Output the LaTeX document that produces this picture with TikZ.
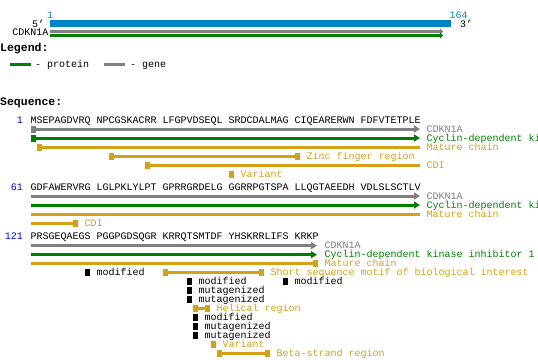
\documentclass[tikz,border=0pt]{standalone}
\usepackage{fontspec}
\setmonofont{Liberation Mono}
\usetikzlibrary{arrows.meta}
\definecolor{seqblue}{RGB}{0,0,255}
\definecolor{barblue}{RGB}{0,132,200}
\definecolor{protgreen}{RGB}{0,128,0}
\definecolor{genegray}{RGB}{128,128,128}
\definecolor{featgold}{RGB}{212,160,23}
\tikzset{
  txt/.style={font=\ttfamily\fontsize{10}{10}\selectfont, inner sep=0pt,
    text height=6.5pt, text depth=0pt, anchor=west},
  head/.style={font=\ttfamily\bfseries\fontsize{11.5}{11.5}\selectfont, inner sep=0pt,
    text height=7.5pt, text depth=0pt, anchor=west},
  sq/.style={inner sep=0pt, minimum width=5pt, minimum height=7pt, fill=#1},
  sq/.default=black,
  trk/.style={line width=3pt, draw=#1},
  arr/.style={-{Triangle[length=6pt,width=7pt]}},
  smallarr/.style={-{Triangle[length=3pt,width=6pt]}}
}
\begin{document}
\begin{tikzpicture}[x=1pt,y=-1pt]
		\clip (0,0) rectangle (538,359);
		% map of the gene
		\node[txt,anchor=center,text=barblue] (mapstart) at (50,15) {1};
		\node[txt,anchor=center,text=barblue] (mapend) at (458.5,15) {164};
		\fill[barblue] (50,20) rectangle (451,27);
		\node[txt] (five) at (32,24) {5’};
		\node[txt] (three) at (460,24) {3’};
		\node[txt,anchor=east] (mapgene) at (48.5,32.5) {CDKN1A};
		\draw[trk=genegray,smallarr] (50,31.5) -- (443,31.5);
		\draw[trk=protgreen,smallarr] (50,35.5) -- (443,35.5);
		% legend
		\node[head] (legend) at (0,48) {Legend:};
		\draw[trk=protgreen] (10,64) -- (31,64);
		\node[txt] (legprot) at (35,64) {- protein};
		\draw[trk=genegray] (104,64) -- (125,64);
		\node[txt] (leggene) at (130,64) {- gene};
		\node[head] (seqhead) at (0,102) {Sequence:};
		% residues 1-60
		\node[txt,anchor=east,text=seqblue] (pos1) at (23,120) {1};
		\node[txt] (seq1) at (30.5,120) {MSEPAGDVRQ NPCGSKACRR LFGPVDSEQL SRDCDALMAG CIQEARERWN FDFVTETPLE};
		\node[sq=genegray] (genea) at (33.5,129) {};
		\draw[trk=genegray,arr] (genea.center) -- (420,129);
		\node[txt,text=genegray] (geneal) at (426.5,129) {CDKN1A};
		\node[sq=protgreen] (prota) at (33.5,138) {};
		\draw[trk=protgreen,arr] (prota.center) -- (420,138);
		\node[txt,text=protgreen] (protal) at (426.5,138) {Cyclin-dependent kinase inhibitor 1};
		\node[sq=featgold] (chaina) at (39.5,147) {};
		\draw[trk=featgold] (chaina.center) -- (420,147);
		\node[txt,text=featgold] (chainal) at (426.5,147) {Mature chain};
		\node[sq=featgold] (zinca) at (111.5,156) {};
		\node[sq=featgold] (zincb) at (297.5,156) {};
		\draw[trk=featgold] (zinca) -- (zincb);
		\node[txt,text=featgold] (zincl) at (306.5,156) {Zinc finger region};
		\node[sq=featgold] (cdia) at (147.5,165) {};
		\draw[trk=featgold] (cdia.center) -- (420,165);
		\node[txt,text=featgold] (cdial) at (426.5,165) {CDI};
		\node[sq=featgold] (vara) at (231.5,174) {};
		\node[txt,text=featgold] (varal) at (240.5,174) {Variant};
		% residues 61-120
		\node[txt,anchor=east,text=seqblue] (pos61) at (23,187) {61};
		\node[txt] (seq61) at (30.5,187) {GDFAWERVRG LGLPKLYLPT GPRRGRDELG GGRRPGTSPA LLQGTAEEDH VDLSLSCTLV};
		\draw[trk=genegray,arr] (31,196) -- (420,196);
		\node[txt,text=genegray] (genebl) at (426.5,196) {CDKN1A};
		\draw[trk=protgreen,arr] (31,205) -- (420,205);
		\node[txt,text=protgreen] (protbl) at (426.5,205) {Cyclin-dependent kinase inhibitor 1};
		\draw[trk=featgold] (31,214) -- (420,214);
		\node[txt,text=featgold] (chainbl) at (426.5,214) {Mature chain};
		\node[sq=featgold] (cdib) at (75.5,223) {};
		\draw[trk=featgold] (31,223) -- (cdib.center);
		\node[txt,text=featgold] (cdibl) at (84.5,223) {CDI};
		% residues 121-164
		\node[txt,anchor=east,text=seqblue] (pos121) at (23,236.7) {121};
		\node[txt] (seq121) at (30.5,236.7) {PRSGEQAEGS PGGPGDSQGR KRRQTSMTDF YHSKRRLIFS KRKP};
		\draw[trk=genegray,arr] (31,245.7) -- (317,245.7);
		\node[txt,text=genegray] (genecl) at (324.5,245.7) {CDKN1A};
		\draw[trk=protgreen,arr] (31,254.7) -- (317,254.7);
		\node[txt,text=protgreen] (protcl) at (324.5,254.7) {Cyclin-dependent kinase inhibitor 1};
		\node[sq=featgold] (chainc) at (315.5,263.7) {};
		\draw[trk=featgold] (31,263.7) -- (chainc.center);
		\node[txt,text=featgold] (chaincl) at (324.5,263.7) {Mature chain};
		\node[sq] (moda) at (87.5,272.7) {};
		\node[txt] (modal) at (96.5,272.7) {modified};
		\node[sq=featgold] (motifa) at (165.5,272.7) {};
		\node[sq=featgold] (motifb) at (261.5,272.7) {};
		\draw[trk=featgold] (motifa) -- (motifb);
		\node[txt,text=featgold] (motifl) at (270.5,272.7) {Short sequence motif of biological interest};
		\node[sq] (modb) at (189.5,281.7) {};
		\node[txt] (modbl) at (198.5,281.7) {modified};
		\node[sq] (modc) at (285.5,281.7) {};
		\node[txt] (modcl) at (294.5,281.7) {modified};
		\node[sq] (muta) at (189.5,290.7) {};
		\node[txt] (mutal) at (198.5,290.7) {mutagenized};
		\node[sq] (mutb) at (189.5,299.7) {};
		\node[txt] (mutbl) at (198.5,299.7) {mutagenized};
		\node[sq=featgold] (helixa) at (195.5,308.7) {};
		\node[sq=featgold] (helixb) at (207.5,308.7) {};
		\draw[trk=featgold] (helixa) -- (helixb);
		\node[txt,text=featgold] (helixl) at (216.5,308.7) {Helical region};
		\node[sq] (modd) at (195.5,317.7) {};
		\node[txt] (moddl) at (204.5,317.7) {modified};
		\node[sq] (mutc) at (195.5,326.7) {};
		\node[txt] (mutcl) at (204.5,326.7) {mutagenized};
		\node[sq] (mutd) at (195.5,335.7) {};
		\node[txt] (mutdl) at (204.5,335.7) {mutagenized};
		\node[sq=featgold] (varb) at (213.5,344.7) {};
		\node[txt,text=featgold] (varbl) at (222.5,344.7) {Variant};
		\node[sq=featgold] (stranda) at (219.5,353.7) {};
		\node[sq=featgold] (strandb) at (267.5,353.7) {};
		\draw[trk=featgold] (stranda) -- (strandb);
		\node[txt,text=featgold] (strandl) at (276.5,353.7) {Beta-strand region};
\end{tikzpicture}
\end{document}
